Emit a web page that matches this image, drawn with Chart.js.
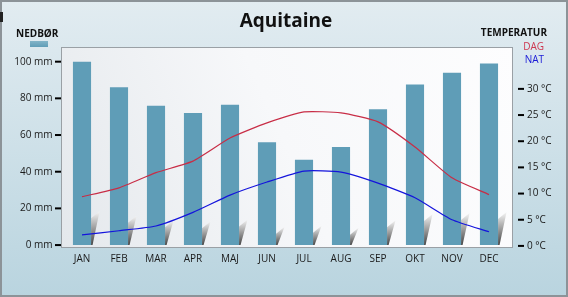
<!DOCTYPE html>
<html>
<head>
<meta charset="utf-8">
<script src="https://cdn.jsdelivr.net/npm/chart.js@4.4.0/dist/chart.umd.min.js"></script>
<style>
  html, body { margin: 0; padding: 0; }
  body { width: 568px; height: 297px; overflow: hidden; }
</style>
</head>
<body>
<canvas id="myChart" width="568" height="297"></canvas>
<script>
// Aquitaine - nedbør (mm) og temperatur (°C)

var maaneder = ['JAN', 'FEB', 'MAR', 'APR', 'MAJ', 'JUN', 'JUL', 'AUG', 'SEP', 'OKT', 'NOV', 'DEC'];
var nedboer = [100, 86, 76, 72, 76.5, 56, 46.5, 53.5, 74, 87.5, 94, 99];
var dagTemp = [9.4, 11.1, 14, 16.2, 20.6, 23.5, 25.6, 25.4, 23.7, 18.9, 13, 9.8];
var natTemp = [2.1, 2.9, 3.8, 6.4, 9.7, 12.2, 14.3, 14.1, 12, 9.2, 5, 2.7];
// small grey shade beside each bar, in mm units
var skygge = [18.5, 16, 13.5, 13, 14, 10, 10.5, 9.5, 13.5, 17, 17.5, 18];
var mmTicks = [0, 20, 40, 60, 80, 100];
var tempTicks = [0, 5, 10, 15, 20, 25, 30];

var FONT = '"Open Sans", "DejaVu Sans", sans-serif';
var barColor = 'rgb(95, 157, 183)';

var baggrund = {
    id: 'baggrund',
    beforeDraw: function (chart) {
        var ctx = chart.ctx;
        var g = ctx.createLinearGradient(0, 0, 0, chart.height);
        g.addColorStop(0, '#e2ecf1');
        g.addColorStop(1, '#b9d4df');
        ctx.save();
        ctx.fillStyle = g;
        ctx.fillRect(0, 0, chart.width, chart.height);
        ctx.strokeStyle = '#8c9398';
        ctx.lineWidth = 2;
        ctx.strokeRect(1, 1, chart.width - 2, chart.height - 2);
        ctx.fillStyle = '#222';
        ctx.fillRect(0, 12, 3, 10);
        ctx.restore();
    },
    beforeDatasetsDraw: function (chart) {
        var ctx = chart.ctx, a = chart.chartArea;
        var x0 = a.left - 2.5, x1 = a.right + 5.5;
        ctx.save();
        var g = ctx.createLinearGradient(x0, a.bottom, x1, a.top);
        g.addColorStop(0, '#e4e8ec');
        g.addColorStop(0.5, '#f7f8fa');
        g.addColorStop(1, '#fdfdfe');
        ctx.fillStyle = g;
        ctx.fillRect(x0, a.top, x1 - x0, a.bottom - a.top);
        ctx.strokeStyle = '#9aa0a5';
        ctx.lineWidth = 1;
        ctx.strokeRect(x0 + 0.5, a.top + 0.5, x1 - x0 - 1, a.bottom - a.top - 1);

        // shades next to bars
        var meta = chart.getDatasetMeta(0);
        var y = chart.scales.y;
        var bund = y.getPixelForValue(0);
        meta.data.forEach(function (bar, i) {
            var r = bar.x + bar.width / 2;
            var top = y.getPixelForValue(skygge[i]);
            var sg = ctx.createLinearGradient(0, bund, 0, top);
            sg.addColorStop(0, '#444');
            sg.addColorStop(1, '#f6f6f6');
            ctx.fillStyle = sg;
            ctx.beginPath();
            ctx.moveTo(r, bund);
            ctx.lineTo(r, top + 7);
            ctx.lineTo(r + 8.5, top);
            ctx.lineTo(r + 1.5, bund);
            ctx.closePath();
            ctx.fill();
        });
        ctx.restore();
    },
    afterDraw: function (chart) {
        var ctx = chart.ctx, a = chart.chartArea;
        ctx.save();
        // tick marks
        ctx.fillStyle = '#000';
        mmTicks.forEach(function (v) {
            var py = chart.scales.y.getPixelForValue(v);
            ctx.fillRect(a.left - 8.5, py - 1, 6, 2);
        });
        tempTicks.forEach(function (v) {
            var py = chart.scales.y1.getPixelForValue(v);
            ctx.fillRect(a.right + 10.5, py - 1, 6, 2);
        });
        // texts
        ctx.fillStyle = '#111';
        ctx.textBaseline = 'alphabetic';
        ctx.textAlign = 'center';
        ctx.font = 'bold 19px ' + FONT;
        ctx.fillText('Aquitaine', 286, 27);
        ctx.textAlign = 'left';
        ctx.font = 'bold 10px ' + FONT;
        ctx.fillText('NEDBØR', 16, 37);
        ctx.textAlign = 'right';
        ctx.fillText('TEMPERATUR', 547, 36);
        ctx.font = '10px ' + FONT;
        ctx.fillStyle = 'rgb(205, 55, 80)';
        ctx.fillText('DAG', 544, 50);
        ctx.fillStyle = 'rgb(25, 25, 215)';
        ctx.fillText('NAT', 544, 63);
        // legend swatch
        var lg = ctx.createLinearGradient(0, 41, 0, 47);
        lg.addColorStop(0, 'rgb(130, 180, 200)');
        lg.addColorStop(1, barColor);
        ctx.fillStyle = lg;
        ctx.fillRect(30, 41, 18, 6);
        ctx.restore();
    }
};

var ctx = document.getElementById('myChart').getContext('2d');
var myChart = new Chart(ctx, {
    data: {
        labels: maaneder,
        datasets: [{
            type: 'bar',
            label: 'Nedbør',
            data: nedboer,
            backgroundColor: barColor,
            borderWidth: 0,
            barPercentage: 0.49,
            categoryPercentage: 1,
            yAxisID: 'y',
            order: 2
        }, {
            type: 'line',
            label: 'Dag',
            data: dagTemp,
            borderColor: 'rgb(200, 45, 70)',
            borderWidth: 1.2,
            pointRadius: 0,
            tension: 0.18,
            yAxisID: 'y1',
            order: 1
        }, {
            type: 'line',
            label: 'Nat',
            data: natTemp,
            borderColor: 'rgb(20, 20, 220)',
            borderWidth: 1.2,
            pointRadius: 0,
            tension: 0.18,
            yAxisID: 'y1',
            order: 0
        }]
    },
    options: {
        responsive: false,
        animation: false,
        events: [],
        layout: { padding: { top: 47, left: 0, right: 0, bottom: 0 } },
        plugins: {
            legend: { display: false },
            tooltip: { enabled: false },
            title: { display: false }
        },
        scales: {
            x: {
                grid: { display: false, drawTicks: false },
                border: { display: false },
                ticks: { color: '#1a1a1a', font: { family: FONT, size: 10 }, padding: 5 },
                afterFit: function (s) { s.height = 49; }
            },
            y: {
                position: 'left',
                min: -1.6,
                max: 108,
                grid: { display: false, drawTicks: false },
                border: { display: false },
                afterBuildTicks: function (s) { s.ticks = mmTicks.map(function (v) { return { value: v }; }); },
                ticks: {
                    color: '#1a1a1a',
                    font: { family: FONT, size: 10 },
                    padding: 11,
                    callback: function (v) { return v + ' mm'; }
                },
                afterFit: function (s) { s.width = 63.5; }
            },
            y1: {
                position: 'right',
                min: -0.4,
                max: 38,
                grid: { display: false, drawTicks: false },
                border: { display: false },
                afterBuildTicks: function (s) { s.ticks = tempTicks.map(function (v) { return { value: v }; }); },
                ticks: {
                    color: '#1a1a1a',
                    font: { family: FONT, size: 10 },
                    padding: 19.5,
                    callback: function (v) { return v + ' °C'; }
                },
                afterFit: function (s) { s.width = 60.5; }
            }
        }
    },
    plugins: [baggrund]
});
</script>
</body>
</html>
